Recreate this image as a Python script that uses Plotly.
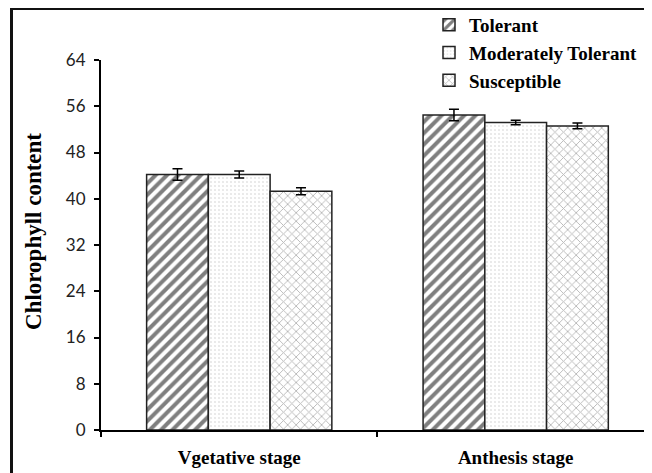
import plotly.graph_objects as go

stages = ["Vgetative stage", "Anthesis stage"]
series_names = ["Tolerant", "Moderately Tolerant", "Susceptible"]
tolerant = [44.2, 54.5]
tolerant_err = [1.0, 1.0]
moderate = [44.2, 53.2]
moderate_err = [0.6, 0.4]
susceptible = [41.3, 52.6]
susceptible_err = [0.6, 0.5]
y_ticks = [0, 8, 16, 24, 32, 40, 48, 56, 64]
y_title = "Chlorophyll content"

values = [tolerant, moderate, susceptible]
errors = [tolerant_err, moderate_err, susceptible_err]
patterns = [
    dict(shape="/", fgcolor="black", bgcolor="white", size=8, solidity=0.5),
    dict(shape=".", fgcolor="#999999", bgcolor="white", size=4, solidity=0.12),
    dict(shape="x", fgcolor="#707070", bgcolor="white", size=6, solidity=0.28),
]

fig = go.Figure()
for name, v, e, p in zip(series_names, values, errors, patterns):
    fig.add_trace(go.Bar(
        x=stages, y=v, name=name,
        marker=dict(color="white", pattern=p, line=dict(color="#222", width=1.5)),
        error_y=dict(type="data", array=e, visible=True, color="black", thickness=1.5, width=5),
    ))

# page has an 8px body margin; figure coordinates = page coordinates - 8
W, H = 644, 465
L, R, T, B = 93, 0, 52, 43
pw = W - L - R
ph = H - T - B

def px_x(x):
    return (x - L) / pw

def px_y(y):
    return (H - B - y) / ph

fig.update_layout(
    width=W, height=H,
    margin=dict(l=L, r=R, t=T, b=B, autoexpand=False),
    paper_bgcolor="white", plot_bgcolor="white",
    barmode="group", bargap=0.33, bargroupgap=0,
    showlegend=True,
    legend=dict(
        x=px_x(421), y=px_y(-2), xanchor="left", yanchor="top",
        font=dict(family="Liberation Serif", size=19, color="black", weight="bold"),
        bgcolor="rgba(0,0,0,0)", itemwidth=30, tracegroupgap=0,
    ),
    font=dict(family="Liberation Serif", color="black"),
    xaxis=dict(
        type="category", range=[-0.5, 1.493],
        showline=True, linecolor="black", linewidth=2,
        ticks="outside", tickson="boundaries", ticklen=5, tickwidth=2, tickcolor="black",
        tickfont=dict(family="Liberation Serif", size=19, color="black", weight="bold"),
        ticklabelstandoff=9,
        showgrid=False, zeroline=False,
    ),
    yaxis=dict(
        range=[0, 64], tickvals=y_ticks,
        showline=True, linecolor="black", linewidth=2,
        ticks="outside", ticklen=5, tickwidth=2, tickcolor="black",
        tickfont=dict(family="Lato", size=17, color="#222"),
        ticklabelstandoff=5,
        showgrid=False, zeroline=False,
    ),
    annotations=[dict(
        text=y_title, xref="paper", yref="paper",
        x=px_x(25), y=px_y(224), xanchor="center", yanchor="middle",
        textangle=-90, showarrow=False,
        font=dict(family="Liberation Serif", size=23, color="black", weight="bold"),
    )],
    shapes=[dict(
        type="rect", xref="paper", yref="paper",
        x0=px_x(3.5), x1=px_x(700), y0=px_y(0.5), y1=px_y(520),
        line=dict(color="#111", width=3), fillcolor="rgba(0,0,0,0)", layer="above",
    )],
)

fig.write_html("out.html")
